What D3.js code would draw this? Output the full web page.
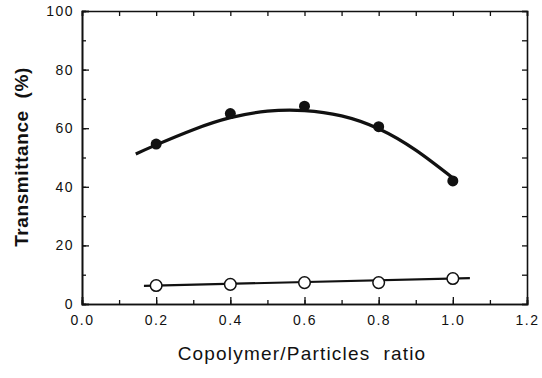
<!DOCTYPE html>
<html>
<head>
<meta charset="utf-8">
<script src="https://cdn.jsdelivr.net/npm/d3@7"></script>
<style>
  body { margin: 0; background: #fff; }
  text { font-family: "Liberation Sans", Arial, sans-serif; fill: #111; white-space: pre; }
  .tick text { font-size: 14px; letter-spacing: 1.5px; }
</style>
</head>
<body>
<div id="chart"></div>
<script>
// data
var ratios = [0.2, 0.4, 0.6, 0.8, 1.0];
var filledT = [54.6, 65.0, 67.5, 60.5, 42.0];
var openT = [6.3, 6.7, 7.3, 7.3, 8.7];

// hand-drawn fitted curves
var fitFilledX = [0.145, 0.2, 0.3, 0.4, 0.5, 0.6, 0.7, 0.8, 0.9, 1.0];
var fitFilledY = [51.2, 54.3, 59.5, 63.6, 65.8, 66.0, 64.2, 59.8, 52.5, 43.0];
var fitOpenX = [0.167, 1.046];
var fitOpenY = [6.2, 8.8];

var xTicks = [0.0, 0.2, 0.4, 0.6, 0.8, 1.0, 1.2];
var yTicks = [0, 20, 40, 60, 80, 100];

var svgWidth = 542;
var svgHeight = 378;
var margin = { top: 11, right: 15, bottom: 74, left: 82 };
var width = svgWidth - margin.left - margin.right;
var height = svgHeight - margin.top - margin.bottom;

var svg = d3.select("#chart")
  .append("svg")
  .attr("width", svgWidth)
  .attr("height", svgHeight);

var chartGroup = svg.append("g")
  .attr("transform", `translate(${margin.left}, ${margin.top})`);

var x = d3.scaleLinear().domain([0, 1.2]).range([0, width]);
var y = d3.scaleLinear().domain([0, 100]).range([height, 0]);

var minorX = d3.range(0, 13).map(d => d / 10);
var minorY = d3.range(0, 11).map(d => d * 10);

// bottom axis, ticks pointing inward
chartGroup.append("g")
  .attr("transform", `translate(0, ${height})`)
  .call(d3.axisBottom(x).tickValues(xTicks).tickFormat(d3.format(".1f")).tickSize(-7).tickPadding(11))
  .call(g => g.selectAll(".tick text").attr("dy", "0.71em"));

chartGroup.append("g")
  .attr("transform", `translate(0, ${height})`)
  .call(d3.axisBottom(x).tickValues(minorX).tickFormat("").tickSize(-4));

// left axis
chartGroup.append("g")
  .call(d3.axisLeft(y).tickValues(yTicks).tickSize(-7).tickPadding(8));

chartGroup.append("g")
  .call(d3.axisLeft(y).tickValues(minorY).tickFormat("").tickSize(-4));

// top and right frame
chartGroup.append("g")
  .call(d3.axisTop(x).tickValues(minorX).tickFormat("").tickSize(-5));

chartGroup.append("g")
  .attr("transform", `translate(${width}, 0)`)
  .call(d3.axisRight(y).tickValues(minorY).tickFormat("").tickSize(-5));

chartGroup.selectAll(".domain").attr("stroke", "#111").attr("stroke-width", 1.6);
chartGroup.selectAll(".tick line").attr("stroke", "#111").attr("stroke-width", 1.3);

// fitted curves
var line = d3.line()
  .x(d => x(d[0]))
  .y(d => y(d[1]))
  .curve(d3.curveNatural);

chartGroup.append("path")
  .datum(d3.zip(fitFilledX, fitFilledY))
  .attr("d", line)
  .attr("fill", "none")
  .attr("stroke", "#111")
  .attr("stroke-width", 3.2);

chartGroup.append("path")
  .datum(d3.zip(fitOpenX, fitOpenY))
  .attr("d", line)
  .attr("fill", "none")
  .attr("stroke", "#111")
  .attr("stroke-width", 2.2);

// points
chartGroup.selectAll(".filled")
  .data(d3.zip(ratios, filledT))
  .enter()
  .append("circle")
  .attr("class", "filled")
  .attr("cx", d => x(d[0]))
  .attr("cy", d => y(d[1]))
  .attr("r", 5.5)
  .attr("fill", "#111");

chartGroup.selectAll(".open")
  .data(d3.zip(ratios, openT))
  .enter()
  .append("circle")
  .attr("class", "open")
  .attr("cx", d => x(d[0]))
  .attr("cy", d => y(d[1]))
  .attr("r", 5.8)
  .attr("fill", "#fff")
  .attr("stroke", "#111")
  .attr("stroke-width", 1.5);

// axis labels
chartGroup.append("text")
  .attr("transform", "rotate(-90)")
  .attr("x", 0 - 146)
  .attr("y", 0 - margin.left + 28)
  .attr("text-anchor", "middle")
  .style("font-size", "19px")
  .style("font-weight", "bold")
  .style("letter-spacing", "0.6px")
  .text("Transmittance  (%)");

chartGroup.append("text")
  .attr("x", 220)
  .attr("y", height + 56)
  .attr("text-anchor", "middle")
  .style("font-size", "19px")
  .style("letter-spacing", "1.2px")
  .text("Copolymer/Particles  ratio");
</script>
</body>
</html>
